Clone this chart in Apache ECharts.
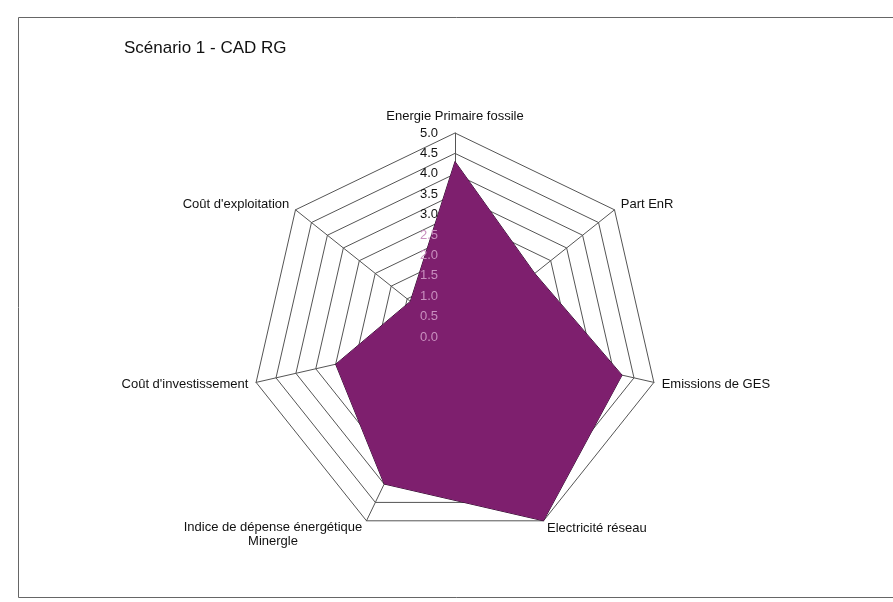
<!DOCTYPE html>
<html>
<head>
<meta charset="utf-8">
<script src="https://cdn.jsdelivr.net/npm/echarts@6/dist/echarts.min.js"></script>
<style>
html,body{margin:0;padding:0;background:#fff;}
#chart{width:893px;height:602px;}
</style>
</head>
<body>
<div id="chart"></div>
<script>
var title = 'Scénario 1 - CAD RG';
// clockwise from the top, as in the picture
var indicators = ['Energie Primaire fossile', 'Part EnR', 'Emissions de GES', 'Electricité réseau',
                  'Indice de dépense énergétique\nMinergle', "Coût d'investissement", "Coût d'exploitation"];
var values = [4.3, 2.5, 4.2, 5.0, 4.0, 3.0, 1.4];
var axisMin = 0, axisMax = 5, axisStep = 0.5;

// ECharts radar runs counter-clockwise: keep the first, reverse the rest
function ccw(arr) { return [arr[0]].concat(arr.slice(1).reverse()); }

var chart = echarts.init(document.getElementById('chart'));
var font = '"Liberation Sans", Arial, sans-serif';

chart.setOption({
  backgroundColor: '#ffffff',
  animation: false,
  title: {
    text: title, left: 119, top: 35,
    textStyle: {fontFamily: font, fontSize: 17, fontWeight: 'normal', color: '#111'}
  },
  graphic: [{
    type: 'rect', shape: {x: 18.5, y: 17.5, width: 890, height: 580},
    style: {fill: null, stroke: '#666', lineWidth: 1}, z: -1
  }],
  radar: {
    center: [455, 337],
    radius: 204,
    startAngle: 90,
    shape: 'polygon',
    splitNumber: (axisMax - axisMin) / axisStep,
    indicator: ccw(indicators).map(function (n) { return {name: n, min: axisMin, max: axisMax}; }),
    axisName: {
      color: '#111', fontFamily: font, fontSize: 13,
      formatter: function (n) {
        if (n.indexOf('\n') >= 0) {
          return n.split('\n').map(function (s, i) { return '{' + (i === 0 ? 'c0' : 'c') + '|' + s + '}'; }).join('\n');
        }
        if (n === indicators[0]) return '{t|' + n + '}';
        return n;
      },
      rich: {
        t: {fontFamily: font, fontSize: 13, color: '#111', lineHeight: 15, verticalAlign: 'top'},
        c0: {width: 180, align: 'center', fontFamily: font, fontSize: 13, color: '#111', lineHeight: 27, verticalAlign: 'bottom'},
        c: {width: 180, align: 'center', fontFamily: font, fontSize: 13, color: '#111', lineHeight: 15}
      }
    },
    nameGap: 8,
    splitLine: {lineStyle: {color: '#555', width: 1}},
    splitArea: {show: false},
    axisLine: {lineStyle: {color: '#555', width: 1}}
  },
  polar: {center: [455, 337], radius: 204},
  angleAxis: {show: false, startAngle: 90, min: 0, max: 360},
  radiusAxis: {
    min: axisMin, max: axisMax, interval: axisStep, z: 10,
    axisLine: {show: false}, axisTick: {show: false}, splitLine: {show: false},
    axisLabel: {
      fontFamily: font, fontSize: 13, margin: 17,
      formatter: function (v) {
        return v < 2.9 ? '{l|' + v.toFixed(1) + '}' : v.toFixed(1);
      },
      color: '#111',
      rich: {l: {color: '#c98fbf', fontFamily: font, fontSize: 13}}
    }
  },
  series: [{
    type: 'radar',
    symbol: 'none',
    lineStyle: {color: '#2a0a28', width: 1},
    areaStyle: {color: '#7e1f6e', opacity: 1},
    data: [{value: ccw(values), name: title}]
  }]
});
</script>
</body>
</html>
